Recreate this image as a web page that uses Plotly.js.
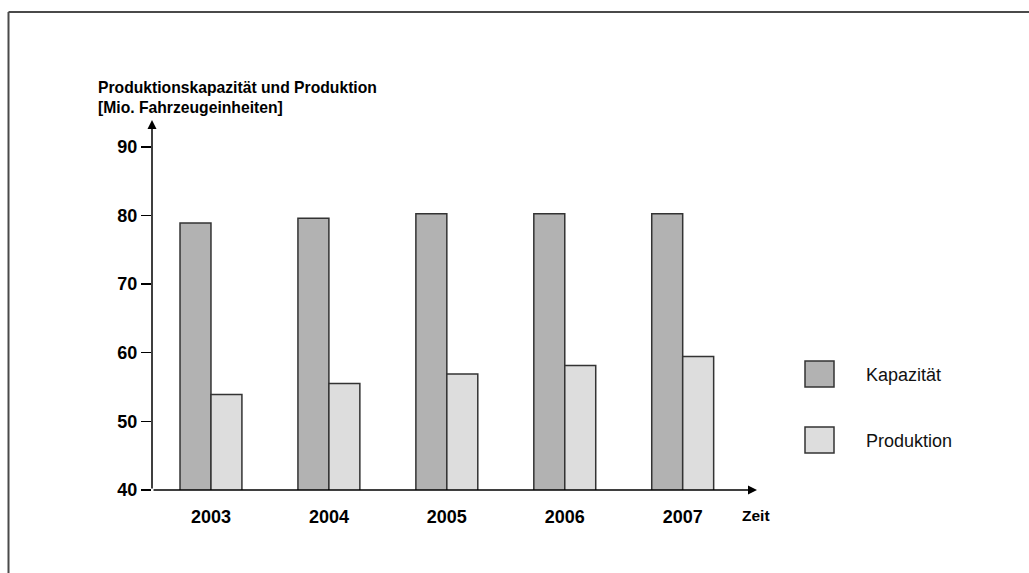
<!DOCTYPE html>
<html>
<head>
<meta charset="utf-8">
<script src="https://cdn.plot.ly/plotly-3.0.1.min.js"></script>
<style>html,body{margin:0;padding:0;background:#fff;}#chart{width:1029px;height:573px;}</style>
</head>
<body>
<div id="chart"></div>
<script>
const years = ['2003', '2004', '2005', '2006', '2007'];
const seriesNames = ['Kapazität', 'Produktion'];
const kapazitaet = [78.9, 79.6, 80.25, 80.25, 80.25];
const produktion = [53.9, 55.5, 56.9, 58.15, 59.45];
const yTicks = [40, 50, 60, 70, 80, 90];
const yAxisTitle = 'Produktionskapazität und Produktion<br>[Mio. Fahrzeugeinheiten]';
const xAxisTitle = 'Zeit';

const colors = ['#b2b2b2', '#dddddd'];
const FONT = 'Arial, "Liberation Sans", Helvetica, sans-serif';

// plot area in pixels
const L = 152, R = 757, T = 120, B = 490, W = 1029, H = 573;
const px = x => (x - L) / (R - L);
const py = y => (B - y) / (B - T);

const traces = [kapazitaet, produktion].map((vals, i) => ({
  type: 'bar',
  name: seriesNames[i],
  x: years,
  y: vals,
  marker: {color: colors[i], line: {color: '#333333', width: 1.5}},
  hoverinfo: 'x+y+name'
}));

const shapes = [
  // outer frame (open to right and bottom)
  {type: 'line', xref: 'paper', yref: 'paper', x0: px(8.5), x1: px(8.5), y0: py(12), y1: py(600), line: {color: '#4a4a4a', width: 2}},
  {type: 'line', xref: 'paper', yref: 'paper', x0: px(8.5), x1: px(1100), y0: py(12), y1: py(12), line: {color: '#4a4a4a', width: 2}}
];
const annotations = [
  // y-axis arrow
  {xref: 'x', yref: 'y', axref: 'x', ayref: 'y', x: -0.5, y: 93.9, ax: -0.5, ay: 40, text: '', showarrow: true,
   arrowhead: 2, arrowsize: 1.2, arrowwidth: 1.5, arrowcolor: '#000'},
  // x-axis arrow
  {xref: 'x', yref: 'y', axref: 'x', ayref: 'y', x: 4.63, y: 40, ax: -0.5, ay: 40, text: '', showarrow: true,
   arrowhead: 2, arrowsize: 1.2, arrowwidth: 1.5, arrowcolor: '#000'},
  // y axis title
  {xref: 'paper', yref: 'paper', x: px(96), y: py(98), xanchor: 'left', yanchor: 'middle', align: 'left',
   text: '<b>' + yAxisTitle.replace('<br>', '</b><br><b>') + '</b>', showarrow: false,
   font: {family: FONT, size: 15.7, color: '#000'}},
  // x axis title
  {xref: 'paper', yref: 'paper', x: px(756), y: py(515), xanchor: 'center', yanchor: 'middle',
   text: '<b>' + xAxisTitle + '</b>', showarrow: false, font: {family: FONT, size: 15.5, color: '#000'}}
];

// manual legend
const legendTops = [361, 427];
seriesNames.forEach((name, i) => {
  const t = legendTops[i];
  shapes.push({type: 'rect', xref: 'paper', yref: 'paper', x0: px(805), x1: px(834), y0: py(t + 26), y1: py(t),
    fillcolor: colors[i], line: {color: '#333333', width: 1.5}});
  annotations.push({xref: 'paper', yref: 'paper', x: px(864), y: py(t + 14), xanchor: 'left', yanchor: 'middle',
    text: name, showarrow: false, font: {family: FONT, size: 18, color: '#111'}});
});

const layout = {
  width: W, height: H,
  margin: {l: L, r: W - R, t: T, b: H - B, pad: 0},
  paper_bgcolor: '#fff', plot_bgcolor: '#fff',
  showlegend: false,
  barmode: 'group',
  bargap: 0.475,
  bargroupgap: 0,
  xaxis: {
    type: 'category', range: [-0.5, 4.63], showgrid: false, zeroline: false, showline: false,
    ticks: '', ticklabelstandoff: 14,
    tickfont: {family: FONT, size: 18, color: '#000', weight: 'bold'}
  },
  yaxis: {
    range: [40, 93.9], tickvals: yTicks, ticktext: yTicks.map(String),
    showgrid: false, zeroline: false, showline: false,
    ticks: 'outside', ticklen: 10, tickwidth: 1.5, tickcolor: '#000',
    tickfont: {family: FONT, size: 18, color: '#000', weight: 'bold'}
  },
  shapes: shapes,
  annotations: annotations
};

Plotly.newPlot('chart', traces, layout, {displayModeBar: false, staticPlot: true});
</script>
</body>
</html>
